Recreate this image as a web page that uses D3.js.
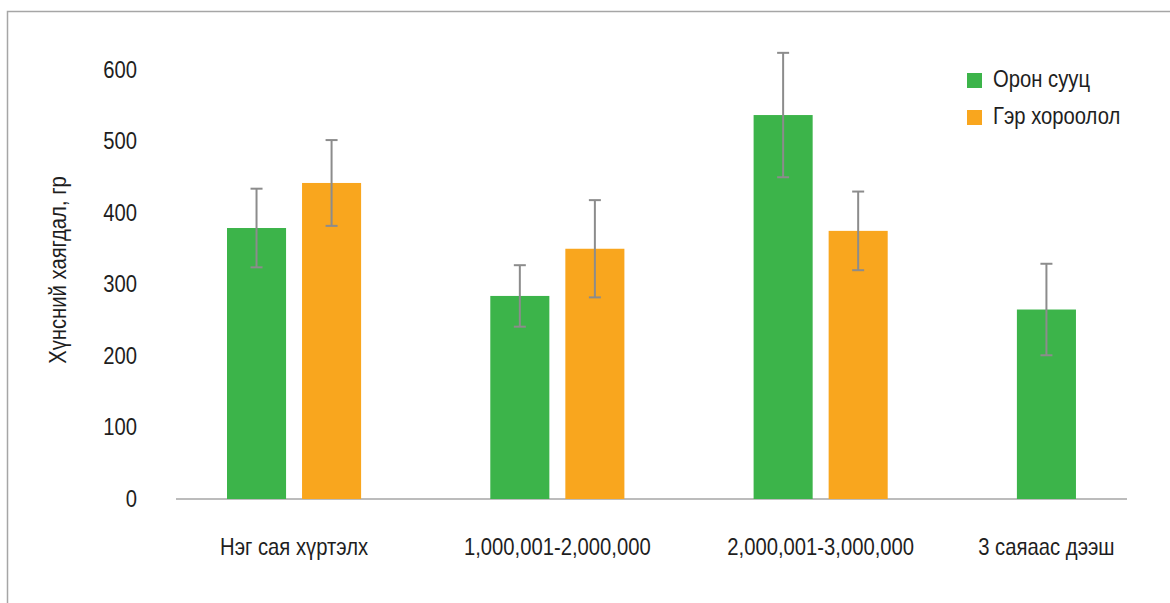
<!DOCTYPE html>
<html>
<head>
<meta charset="utf-8">
<script src="https://cdn.jsdelivr.net/npm/d3@7"></script>
<style>
  body { margin: 0; background: #fff; }
  svg text { font-family: "Liberation Sans", Arial, sans-serif; fill: #1e1e1e; font-size: 23px; }
  /* the original uses a condensed face, so squeeze the glyphs a bit */
  .cond { transform-box: fill-box; transform: scaleX(0.88); }
</style>
</head>
<body>
<div id="chart"></div>
<script>
// data
const categories = ['Нэг сая хүртэлх', '1,000,001-2,000,000', '2,000,001-3,000,000', '3 саяаас дээш'];
const seriesNames = ['Орон сууц', 'Гэр хороолол'];
const apartment = [379, 284, 537, 265];
const apartmentErr = [55, 43, 87, 64];
const ger = [442, 350, 375, null];
const gerErr = [60, 68, 55, null];
const yTicks = [0, 100, 200, 300, 400, 500, 600];

const colors = ['#3cb44a', '#f9a61e'];
const width = 1170, height = 603;

const svg = d3.select('#chart').append('svg')
    .attr('width', width)
    .attr('height', height);

// outer frame
svg.append('rect')
    .attr('x', 7.5).attr('y', 11.5)
    .attr('width', width).attr('height', height)
    .attr('fill', 'none')
    .attr('stroke', '#a6a6a6')
    .attr('stroke-width', 1.5);

const y = d3.scaleLinear().domain([0, 600]).range([499, 70]);

const x0 = d3.scaleBand().domain(categories).range([162.4, 1215.6]);
const x1 = d3.scaleBand().domain(seriesNames).range([64.6, 198.7]).paddingInner(0.213);

const rows = categories.map((c, i) => ({
    cat: c,
    vals: [
        { s: seriesNames[0], v: apartment[i], e: apartmentErr[i], c: colors[0] },
        { s: seriesNames[1], v: ger[i], e: gerErr[i], c: colors[1] }
    ].filter(d => d.v != null)
}));

// y axis labels (no line, no ticks)
const yAxis = svg.append('g')
    .attr('transform', 'translate(137,0)')
    .call(d3.axisLeft(y).tickValues(yTicks).tickSize(0).tickPadding(0));
yAxis.select('.domain').remove();
yAxis.selectAll('text')
    .attr('class', 'cond')
    .style('transform-origin', 'right center')
    .style('font-size', '23px')
    .attr('fill', '#1e1e1e');

// baseline
svg.append('line')
    .attr('x1', 176).attr('x2', 1127)
    .attr('y1', y(0)).attr('y2', y(0))
    .attr('stroke', '#a6a6a6')
    .attr('stroke-width', 1.5);

const groups = svg.selectAll('.grp')
    .data(rows)
    .enter().append('g')
    .attr('class', 'grp')
    .attr('transform', d => `translate(${x0(d.cat)},0)`);

groups.selectAll('rect')
    .data(d => d.vals)
    .enter().append('rect')
    .attr('x', d => x1(d.s))
    .attr('y', d => y(d.v))
    .attr('width', x1.bandwidth())
    .attr('height', d => y(0) - y(d.v))
    .attr('fill', d => d.c);

// error bars
const eb = groups.selectAll('.err')
    .data(d => d.vals)
    .enter().append('g')
    .attr('class', 'err')
    .attr('stroke', '#8c8c8c')
    .attr('stroke-width', 2);
const cx = d => x1(d.s) + x1.bandwidth() / 2;
eb.append('line')
    .attr('x1', cx).attr('x2', cx)
    .attr('y1', d => y(d.v + d.e)).attr('y2', d => y(d.v - d.e));
eb.append('line')
    .attr('x1', d => cx(d) - 6).attr('x2', d => cx(d) + 6)
    .attr('y1', d => y(d.v + d.e)).attr('y2', d => y(d.v + d.e));
eb.append('line')
    .attr('x1', d => cx(d) - 6).attr('x2', d => cx(d) + 6)
    .attr('y1', d => y(d.v - d.e)).attr('y2', d => y(d.v - d.e));

// category labels, centred under the bars present
groups.append('text')
    .attr('class', 'cond')
    .style('transform-origin', 'center')
    .attr('x', d => {
        const xs = d.vals.map(v => x1(v.s));
        return (d3.min(xs) + d3.max(xs) + x1.bandwidth()) / 2;
    })
    .attr('y', 549)
    .attr('text-anchor', 'middle')
    .attr('dominant-baseline', 'middle')
    .text(d => d.cat);

// y title
svg.append('g')
    .attr('transform', 'translate(60,270) rotate(-90)')
    .append('text')
    .attr('class', 'cond')
    .style('transform-origin', 'center')
    .attr('text-anchor', 'middle')
    .attr('dominant-baseline', 'middle')
    .text('Хүнсний хаягдал, гр');

// legend
const legend = svg.append('g').attr('transform', 'translate(967,73)');
const li = legend.selectAll('g')
    .data(seriesNames)
    .enter().append('g')
    .attr('transform', (d, i) => `translate(0,${i * 37})`);
li.append('rect')
    .attr('width', 15).attr('height', 15)
    .attr('fill', (d, i) => colors[i]);
li.append('text')
    .attr('class', 'cond')
    .style('transform-origin', 'left center')
    .attr('x', 26).attr('y', 8)
    .attr('dominant-baseline', 'middle')
    .text(d => d);
</script>
</body>
</html>
